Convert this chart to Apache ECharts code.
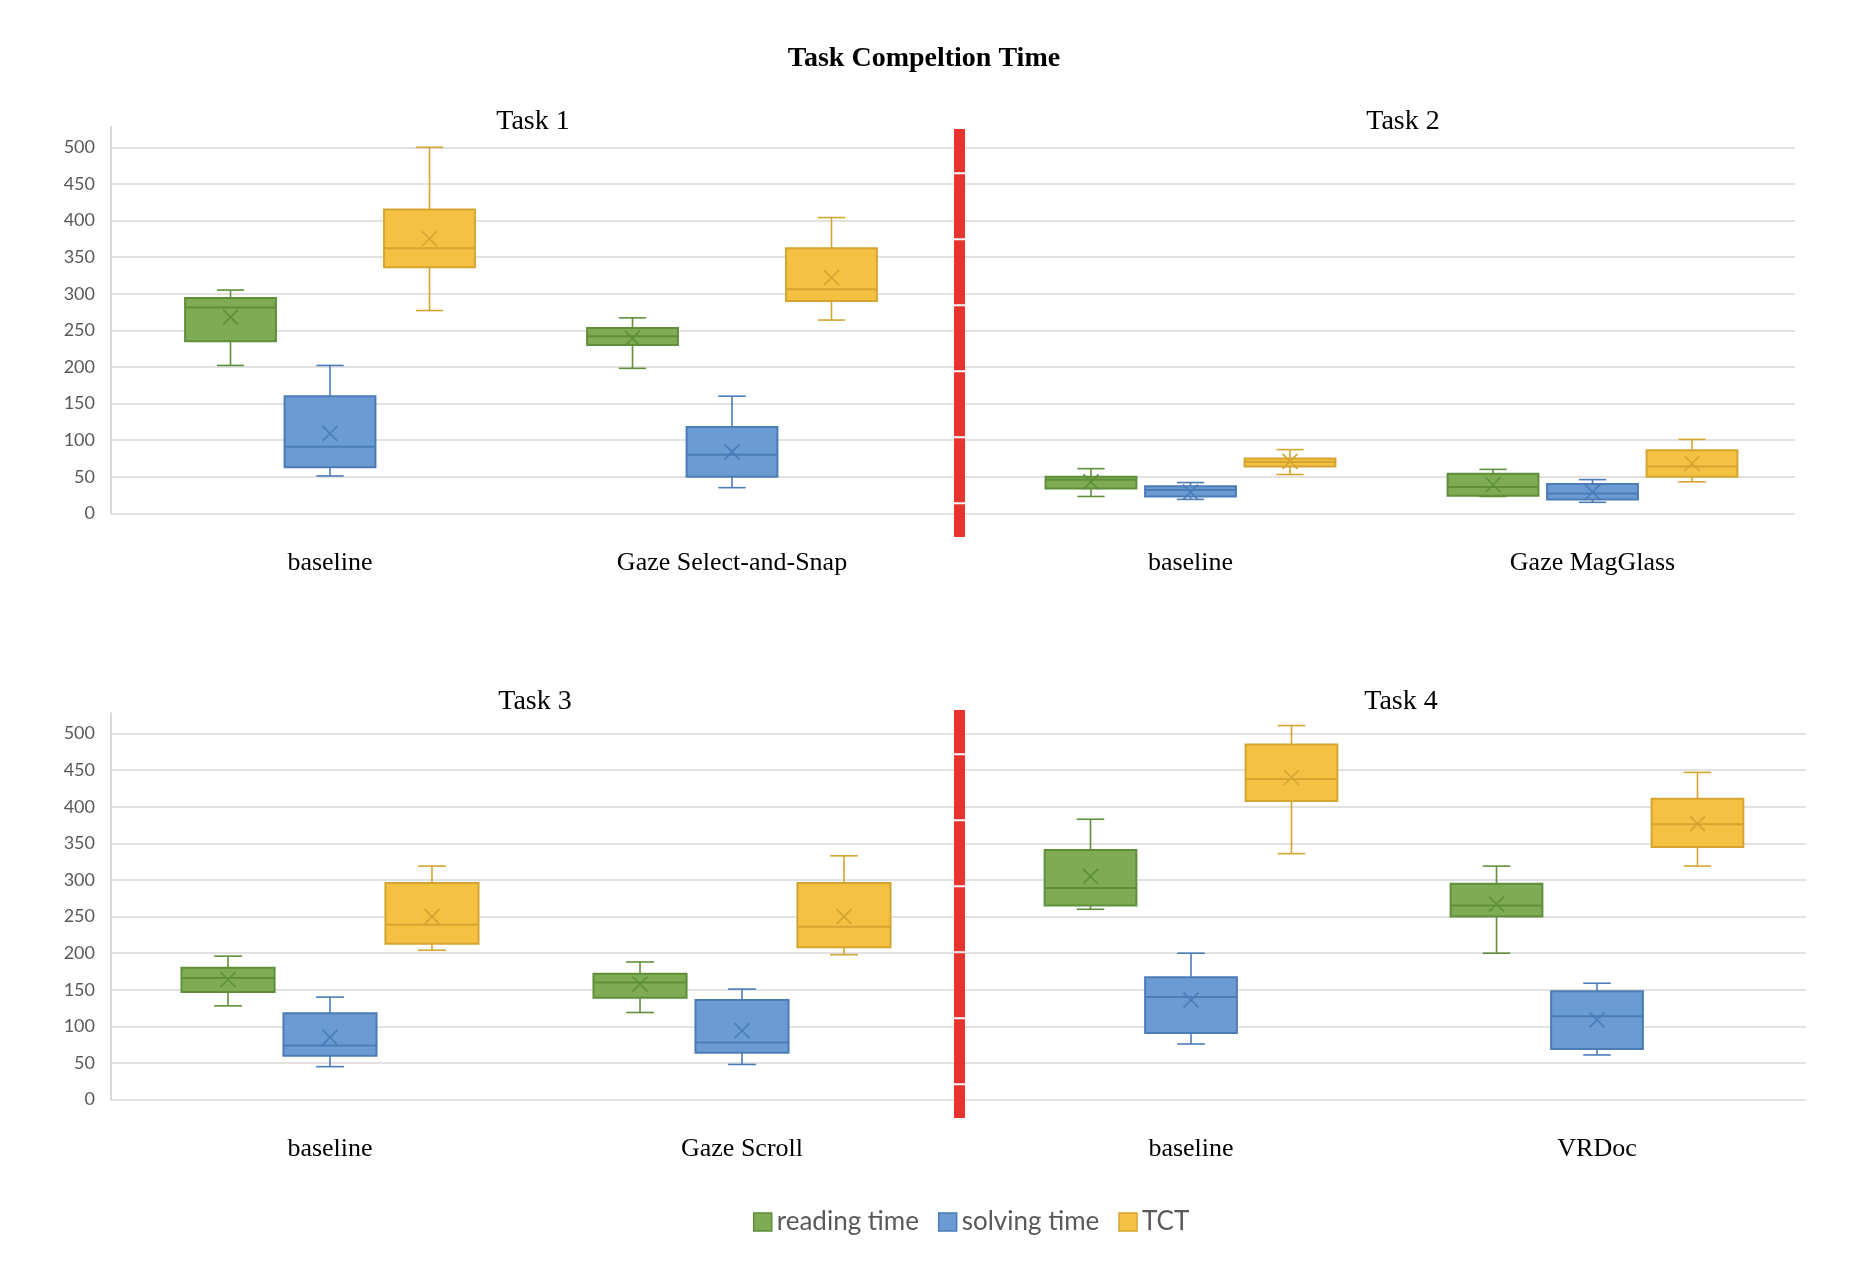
<!DOCTYPE html>
<html>
<head>
<meta charset="utf-8">
<title>Task Compeltion Time</title>
<script src="https://cdn.jsdelivr.net/npm/echarts@6/dist/echarts.min.js"></script>
<style>
  html, body { margin: 0; padding: 0; background: #fff; }
  #main { width: 1868px; height: 1270px; }
</style>
</head>
<body>
<div id="main"></div>
<script>
// categories per task
const cats1 = ['baseline', 'Gaze Select-and-Snap'];
const cats2 = ['baseline', 'Gaze MagGlass'];
const cats3 = ['baseline', 'Gaze Scroll'];
const cats4 = ['baseline', 'VRDoc'];

const seriesNames = ['reading time', 'solving time', 'TCT'];
const yTicks = [0, 50, 100, 150, 200, 250, 300, 350, 400, 450, 500];

// each row: [min, Q1, median, Q3, max, mean], one row per category
const task1Reading = [[202, 235, 281, 294, 305, 268], [198, 230, 242, 253, 267, 239]];
const task1Solving = [[51, 63, 91, 160, 202, 109], [35, 50, 80, 118, 160, 84]];
const task1TCT     = [[277, 336, 362, 415, 500, 375], [264, 290, 306, 362, 404, 322]];

const task2Reading = [[23, 34, 46, 50, 61, 43], [23, 24, 36, 54, 60, 39]];
const task2Solving = [[19, 23, 32, 37, 42, 29], [15, 19, 27, 40, 46, 29]];
const task2TCT     = [[53, 64, 70, 75, 87, 71], [43, 50, 64, 86, 101, 68]];

const task3Reading = [[128, 147, 166, 180, 196, 164], [119, 139, 160, 172, 188, 158]];
const task3Solving = [[45, 60, 74, 118, 140, 85], [48, 64, 78, 136, 151, 94]];
const task3TCT     = [[204, 213, 239, 296, 319, 250], [198, 208, 236, 296, 333, 250]];

const task4Reading = [[260, 265, 289, 341, 383, 305], [200, 250, 265, 295, 319, 267]];
const task4Solving = [[76, 91, 140, 167, 200, 136], [61, 69, 114, 148, 159, 109]];
const task4TCT     = [[336, 408, 438, 485, 511, 440], [319, 345, 376, 411, 447, 377]];

const fills   = ['#7eab53', '#6a9bd2', '#f5c142'];
const borders = ['#5f8f3b', '#4b7cb6', '#d4a530'];
const gridColor = '#d9d9d9';
const labelGrey = '#595959';
const serif = '"Liberation Serif", "Times New Roman", serif';
const sans = 'Lato, "Open Sans", sans-serif';

// panel layout (pixels)
const panels = [
  { title: 'Task 1', tx: 528, ty: 119, cats: cats1, data: [task1Reading, task1Solving, task1TCT],
    frame: { left: 111, right: 1868 - 960, top: 147.3, height: 366 }, plotLeft: 129, plotW: 804, plotTop: 127, showAxis: true },
  { title: 'Task 2', tx: 1398, ty: 119, cats: cats2, data: [task2Reading, task2Solving, task2TCT],
    frame: { left: 960, right: 1868 - 1795, top: 147.3, height: 366 }, plotLeft: 989.5, plotW: 804, plotTop: 127, showAxis: false },
  { title: 'Task 3', tx: 530, ty: 699, cats: cats3, data: [task3Reading, task3Solving, task3TCT],
    frame: { left: 111, right: 1868 - 960, top: 733.6, height: 366 }, plotLeft: 124, plotW: 824, plotTop: 713.3, showAxis: true },
  { title: 'Task 4', tx: 1396, ty: 699, cats: cats4, data: [task4Reading, task4Solving, task4TCT],
    frame: { left: 960, right: 1868 - 1806, top: 733.6, height: 366 }, plotLeft: 988, plotW: 812, plotTop: 713.3, showAxis: false }
];

// y max of plot grid so that 500 lines up with the frame grid
const plotH = 386.3;
const plotMax = 500 * plotH / 366;

function boxRender(slot, fill, stroke) {
  return function (params, api) {
    const cat = api.value(0);
    const band = api.size([1, 0])[0];
    const cx = api.coord([cat, 0])[0] + (slot - 1) * band * 0.2475;
    const bw = band * 0.226;
    const cw = bw * 0.3;
    const y = function (i) { return api.coord([cat, api.value(i)])[1]; };
    const yMin = y(1), yQ1 = y(2), yMed = y(3), yQ3 = y(4), yMax = y(5), yMean = y(6);
    const line = { stroke: stroke, lineWidth: 1.6 };
    const m = 7.5;
    return {
      type: 'group',
      children: [
        { type: 'line', shape: { x1: cx, y1: yMax, x2: cx, y2: yQ3 }, style: line },
        { type: 'line', shape: { x1: cx, y1: yQ1, x2: cx, y2: yMin }, style: line },
        { type: 'line', shape: { x1: cx - cw / 2, y1: yMax, x2: cx + cw / 2, y2: yMax }, style: line },
        { type: 'line', shape: { x1: cx - cw / 2, y1: yMin, x2: cx + cw / 2, y2: yMin }, style: line },
        { type: 'rect', shape: { x: cx - bw / 2, y: yQ3, width: bw, height: yQ1 - yQ3 },
          style: { fill: fill, stroke: stroke, lineWidth: 2 } },
        { type: 'line', shape: { x1: cx - bw / 2, y1: yMed, x2: cx + bw / 2, y2: yMed }, style: { stroke: stroke, lineWidth: 2 } },
        { type: 'line', shape: { x1: cx - m, y1: yMean - m, x2: cx + m, y2: yMean + m }, style: { stroke: stroke, lineWidth: 1.6 } },
        { type: 'line', shape: { x1: cx - m, y1: yMean + m, x2: cx + m, y2: yMean - m }, style: { stroke: stroke, lineWidth: 1.6 } }
      ]
    };
  };
}

const grids = [], xAxes = [], yAxes = [], series = [];
const titles = [{
  text: 'Task Compeltion Time', left: 919, top: 40, textAlign: 'center',
  textStyle: { fontFamily: serif, fontSize: 28, fontWeight: 'bold', color: '#000' }
}];

panels.forEach(function (p) {
  titles.push({
    text: p.title, left: p.tx, top: p.ty - 16, textAlign: 'center',
    textStyle: { fontFamily: serif, fontSize: 28, fontWeight: 'normal', color: '#000' }
  });

  // frame grid: gridlines and tick labels
  const fi = grids.length;
  grids.push({ left: p.frame.left, right: p.frame.right, top: p.frame.top, height: p.frame.height });
  xAxes.push({ type: 'value', gridIndex: fi, min: 0, max: 1, show: false });
  yAxes.push({
    type: 'value', gridIndex: fi, min: 0, max: 500, interval: 50,
    axisLine: { show: false }, axisTick: { show: false },
    axisLabel: {
      show: p.showAxis, margin: 16, color: labelGrey, fontFamily: sans, fontSize: 18,
      formatter: function (v) { return yTicks.indexOf(v) >= 0 ? String(v) : ''; }
    },
    splitLine: { show: true, lineStyle: { color: gridColor, width: 1.5 } }
  });

  // plot grid: categories and boxes
  const gi = grids.length;
  grids.push({ left: p.plotLeft, width: p.plotW, top: p.plotTop, height: plotH });
  xAxes.push({
    type: 'category', gridIndex: gi, data: p.cats,
    axisLine: { show: false }, axisTick: { show: false },
    axisLabel: { margin: 37, color: '#000', fontFamily: serif, fontSize: 26 }
  });
  yAxes.push({
    type: 'value', gridIndex: gi, min: 0, max: plotMax,
    offset: p.plotLeft - p.frame.left,
    axisLine: { show: p.showAxis, lineStyle: { color: gridColor, width: 2 } },
    axisTick: { show: false }, axisLabel: { show: false }, splitLine: { show: false }
  });

  p.data.forEach(function (rows, si) {
    series.push({
      name: seriesNames[si],
      type: 'custom',
      xAxisIndex: gi, yAxisIndex: gi,
      itemStyle: { color: fills[si], borderColor: borders[si], borderWidth: 1.5 },
      encode: { x: 0, y: [1, 2, 3, 4, 5] },
      data: rows.map(function (r, ci) { return [ci].concat(r); }),
      renderItem: boxRender(si, fills[si], borders[si]),
      z: 3
    });
  });
});

const myChart = echarts.init(document.getElementById('main'));

const option = {
  backgroundColor: '#fff',
  animation: false,
  title: titles,
  legend: {
    left: 748, top: 1204,
    itemWidth: 18, itemHeight: 18, itemGap: 19,
    textStyle: { color: labelGrey, fontFamily: sans, fontSize: 26 },
    data: seriesNames.map(function (n, i) {
      return { name: n, icon: 'rect', itemStyle: { color: fills[i], borderColor: borders[i], borderWidth: 1.5 } };
    })
  },
  grid: grids,
  xAxis: xAxes,
  yAxis: yAxes,
  series: series,
  // red dashed separators between the panels
  graphic: [
    { type: 'line', z: 100, shape: { x1: 959.5, y1: 129, x2: 959.5, y2: 537 },
      style: { stroke: '#e8342f', lineWidth: 11, lineDash: [64, 2], lineDashOffset: 20.7 } },
    { type: 'line', z: 100, shape: { x1: 959.5, y1: 710, x2: 959.5, y2: 1118 },
      style: { stroke: '#e8342f', lineWidth: 11, lineDash: [64, 2], lineDashOffset: 20.7 } }
  ]
};

myChart.setOption(option);
</script>
</body>
</html>
